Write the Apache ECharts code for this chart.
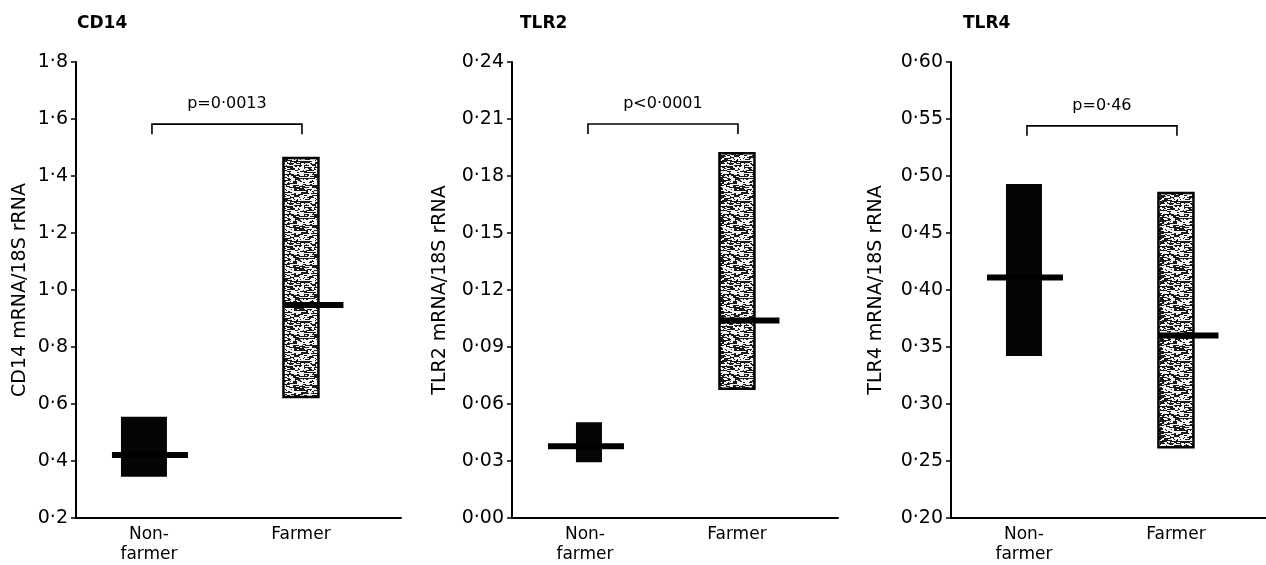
<!DOCTYPE html>
<html><head><meta charset="utf-8">
<script src="https://cdn.jsdelivr.net/npm/echarts@6/dist/echarts.min.js"></script>
<style>html,body{margin:0;padding:0;background:#fff}#c{width:1266px;height:565px}</style>
</head><body><div id="c"></div>
<script>
// ---------- data ----------
const categories = ['Non-\nfarmer', 'Farmer'];
const panelTitles = ['CD14', 'TLR2', 'TLR4'];
const yAxisNames = ['CD14 mRNA/18S rRNA', 'TLR2 mRNA/18S rRNA', 'TLR4 mRNA/18S rRNA'];
const cd14Low = [0.345, 0.625];
const cd14High = [0.555, 1.463];
const cd14Median = [0.421, 0.947];
const tlr2Low = [0.0294, 0.068];
const tlr2High = [0.0504, 0.192];
const tlr2Median = [0.0378, 0.104];
const tlr4Low = [0.342, 0.262];
const tlr4High = [0.493, 0.485];
const tlr4Median = [0.411, 0.360];
const pTexts = ['p=0·0013', 'p<0·0001', 'p=0·46'];
const bracketY = [1.582, 0.2074, 0.544];
const yMin = [0.2, 0, 0.2];
const yMax = [1.8, 0.24, 0.6];
const yStep = [0.2, 0.03, 0.05];
const yDecimals = [1, 2, 2];

// ---------- layout / style ----------
const layout = [
  {left: 76, width: 325, nameGap: 46, titleLeft: 77, nfW: 46, nfShift: -5},
  {left: 512, width: 326, nameGap: 62, titleLeft: 520, nfW: 26, nfShift: 4},
  {left: 951, width: 315, nameGap: 65, titleLeft: 963, nfW: 36, nfShift: 0}
];
const FONT = 'DejaVu Sans';
const X_MIN = -0.48, PX_PER_UNIT = 152;

// deterministic stipple texture (black with white short dashes)
const pat = document.createElement('canvas');
pat.width = 40; pat.height = 40;
(function () {
  const ctx = pat.getContext('2d');
  ctx.fillStyle = '#1a1a1a';
  ctx.fillRect(0, 0, 40, 40);
  ctx.fillStyle = '#f2f2f2';
  for (let y = 0; y < 40; y++) {
    for (let x = 0; x < 40; x++) {
      let h = (x * 374761393 + y * 668265263) >>> 0;
      h = Math.imul(h ^ (h >>> 13), 1274126177) >>> 0;
      h = (h ^ (h >>> 16)) >>> 0;
      if (h % 100 < 23) ctx.fillRect(x, y, 2 + (h % 3), 1);
    }
  }
})();

const panels = [
  [cd14Low, cd14High, cd14Median],
  [tlr2Low, tlr2High, tlr2Median],
  [tlr4Low, tlr4High, tlr4Median]
];

function boxRender(pi) {
  return function (params, api) {
    const c = api.value(0), lo = api.value(1), hi = api.value(2), med = api.value(3);
    const pLo = api.coord([c, lo]), pHi = api.coord([c, hi]), pMed = api.coord([c, med]);
    const isNF = c === 0;
    const w = isNF ? layout[pi].nfW : 35;
    const cx = pLo[0] + (isNF ? layout[pi].nfShift : 0);
    const rect = {
      type: 'rect',
      shape: {x: cx - w / 2, y: pHi[1], width: w, height: pLo[1] - pHi[1]},
      style: isNF ? {fill: '#050505'} : {fill: {image: pat, repeat: 'repeat'}, stroke: '#000', lineWidth: 2.5}
    };
    const mx1 = isNF ? pMed[0] - 37 : cx - w / 2;
    const mx2 = isNF ? pMed[0] + 39 : cx - w / 2 + 60;
    const line = {
      type: 'line',
      shape: {x1: mx1, y1: pMed[1], x2: mx2, y2: pMed[1]},
      style: {stroke: '#000', lineWidth: 6}
    };
    return {type: 'group', children: [rect, line]};
  };
}

function bracketRender(pi) {
  return function (params, api) {
    const y = api.value(1);
    const a = api.coord([0, y]), b = api.coord([1, y]);
    return {
      type: 'group',
      children: [
        {type: 'polyline', shape: {points: [[a[0] + 3, a[1] + 10], [a[0] + 3, a[1]], [b[0] + 1, b[1]], [b[0] + 1, b[1] + 10]]},
          style: {stroke: '#000', lineWidth: 1.6, fill: null}},
        {type: 'text', x: (a[0] + b[0]) / 2 + 2, y: a[1] - 20,
          style: {text: pTexts[pi], fill: '#000', font: '16px "' + FONT + '"', align: 'center', verticalAlign: 'middle'}}
      ]
    };
  };
}

const grids = [], xAxes = [], yAxes = [], series = [], titles = [];
layout.forEach((L, i) => {
  grids.push({left: L.left, width: L.width, top: 62, bottom: 46, containLabel: false});
  titles.push({text: panelTitles[i], left: L.titleLeft, top: 15, padding: 0,
    textStyle: {fontFamily: FONT, fontSize: 17, fontWeight: 'bold', color: '#000'}});
  xAxes.push({
    type: 'value', gridIndex: i, min: X_MIN, max: X_MIN + L.width / PX_PER_UNIT,
    axisLine: {show: true, onZero: false, lineStyle: {color: '#000', width: 2}},
    axisTick: {show: false}, splitLine: {show: false},
    axisLabel: {customValues: [0, 1], formatter: v => categories[Math.round(v)] || '',
      fontFamily: FONT, fontSize: 17, lineHeight: 20, color: '#000', margin: 7}
  });
  yAxes.push({
    type: 'value', gridIndex: i, min: yMin[i], max: yMax[i], interval: yStep[i],
    name: yAxisNames[i], nameLocation: 'middle', nameGap: L.nameGap,
    nameTextStyle: {fontFamily: FONT, fontSize: 19, color: '#000'},
    axisLine: {show: true, onZero: false, lineStyle: {color: '#000', width: 2}},
    axisTick: {show: true, length: 5, lineStyle: {color: '#000', width: 1.5}},
    splitLine: {show: false},
    axisLabel: {formatter: v => v.toFixed(yDecimals[i]).replace('.', '·'),
      fontFamily: FONT, fontSize: 19, color: '#000', margin: 8}
  });
  const [lo, hi, med] = panels[i];
  series.push({
    type: 'custom', xAxisIndex: i, yAxisIndex: i,
    renderItem: boxRender(i),
    encode: {x: 0, y: [1, 2, 3]},
    data: categories.map((c, k) => [k, lo[k], hi[k], med[k]]),
    silent: true, animation: false
  });
  series.push({
    type: 'custom', xAxisIndex: i, yAxisIndex: i,
    renderItem: bracketRender(i),
    encode: {x: 0, y: 1},
    data: [[0.5, bracketY[i]]],
    silent: true, animation: false
  });
});

const chart = echarts.init(document.getElementById('c'), null, {renderer: 'canvas'});
chart.setOption({
  backgroundColor: '#fff',
  animation: false,
  title: titles,
  grid: grids,
  xAxis: xAxes,
  yAxis: yAxes,
  series: series
});
</script>
</body></html>
